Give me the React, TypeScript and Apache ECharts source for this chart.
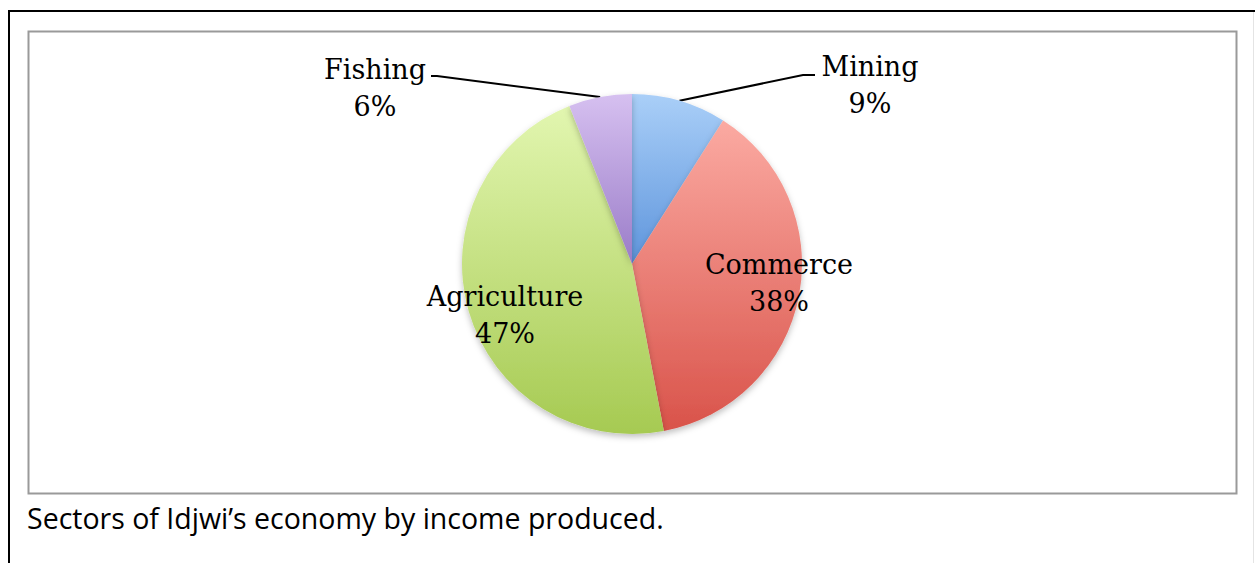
import React, { useEffect, useRef } from "react";
import * as echarts from "echarts";

const categories = ["Mining", "Commerce", "Agriculture", "Fishing"];
const percents = [9, 38, 47, 6];
const caption = "Sectors of Idjwi\u2019s economy by income produced.";

const gradients: Record<string, [string, string]> = {
  Mining: ["#aacff8", "#5e95dc"],
  Commerce: ["#fbaaa2", "#d9534a"],
  Agriculture: ["#e2f6b0", "#a6ca52"],
  Fishing: ["#d6c0f0", "#9a7cc8"],
};

const labelPos: Record<string, { x: number; y: number; bend?: [number, number]; end?: [number, number] }> = {
  Mining: { x: 870, y: 85, bend: [803, 75], end: [815, 75] },
  Commerce: { x: 779, y: 283 },
  Agriculture: { x: 505, y: 315 },
  Fishing: { x: 375, y: 88, bend: [437, 76], end: [431, 76] },
};

export default function App() {
  const ref = useRef<HTMLDivElement>(null);
  useEffect(() => {
    document.body.style.margin = "0";
    const chart = echarts.init(ref.current!, null, { renderer: "svg" });
    const data = categories.map((name, i) => ({
      name,
      value: percents[i],
      itemStyle: {
        color: new echarts.graphic.LinearGradient(0, 0, 0, 1, [
          { offset: 0, color: gradients[name][0] },
          { offset: 1, color: gradients[name][1] },
        ]),
      },
      label: { position: labelPos[name].bend ? "outside" : "inside" },
      labelLine: { show: !!labelPos[name].bend },
    }));
    chart.setOption({
      animation: false,
      backgroundColor: "#ffffff",
      graphic: [
        { type: "line", shape: { x1: 8, y1: 11, x2: 1255, y2: 11 }, style: { stroke: "#000", lineWidth: 2 } },
        { type: "line", shape: { x1: 9, y1: 10, x2: 9, y2: 563 }, style: { stroke: "#000", lineWidth: 2 } },
        { type: "line", shape: { x1: 1253.5, y1: 12, x2: 1253.5, y2: 563 }, style: { stroke: "#e4e4e4", lineWidth: 1 } },
        {
          type: "rect",
          shape: { x: 28.5, y: 31.5, width: 1208, height: 462 },
          style: { fill: "none", stroke: "#9a9a9a", lineWidth: 2 },
        },
        {
          type: "text",
          x: 27,
          y: 518,
          style: {
            text: caption,
            font: "28.5px 'Open Sans'",
            fill: "#000",
            verticalAlign: "middle",
            align: "left",
          },
        },
      ],
      series: [
        {
          type: "pie",
          center: [632, 264],
          radius: 170,
          startAngle: 90,
          clockwise: true,
          data,
          itemStyle: {
            shadowBlur: 6,
            shadowColor: "rgba(0,0,0,0.25)",
            shadowOffsetY: 3,
          },
          label: {
            show: true,
            formatter: "{b}\n{c}%",
            fontFamily: "DejaVu Serif",
            fontSize: 27,
            lineHeight: 37,
            color: "#000",
            align: "center",
          },
          labelLine: {
            show: true,
            lineStyle: { color: "#000", width: 2 },
          },
          labelLayout: (params: any) => {
            const name = categories[params.dataIndex];
            const p = labelPos[name];
            const res: any = { x: p.x, y: p.y, align: "center", verticalAlign: "middle" };
            if (p.bend && params.labelLinePoints) {
              res.labelLinePoints = [params.labelLinePoints[0], p.bend, p.end];
            }
            return res;
          },
          emphasis: { disabled: true },
        },
      ],
    });
    return () => chart.dispose();
  }, []);
  return <div ref={ref} style={{ width: 1255, height: 563 }} />;
}
